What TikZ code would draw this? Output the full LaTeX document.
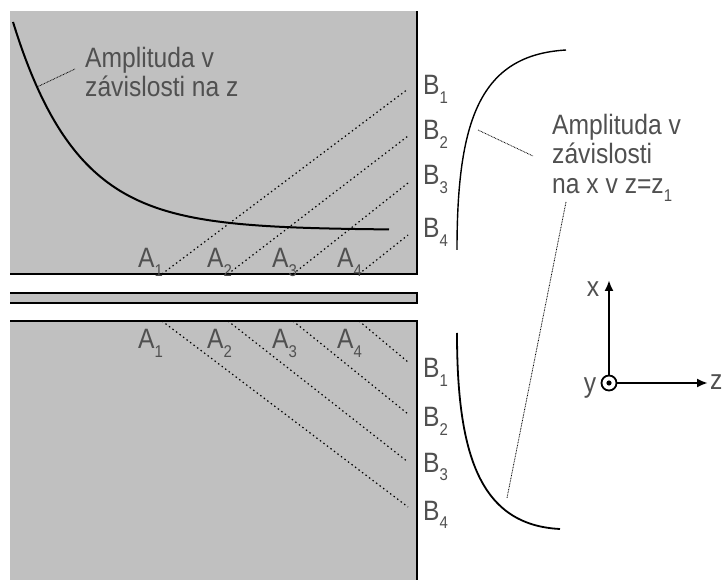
\documentclass[tikz,border=0pt]{standalone}
\usepackage{fontspec}
\usetikzlibrary{arrows.meta}
\newfontfamily\figfont[FakeStretch=0.88]{Liberation Sans}
\definecolor{PanelGray}{HTML}{C0C0C0}
\definecolor{LabelGray}{HTML}{505050}
\newcommand\lowidx[1]{\raisebox{-0.3em}{\fontsize{17}{17}\selectfont#1}}
\tikzset{
  lbl/.style={text=LabelGray,font=\figfont\fontsize{28}{29.5}\selectfont,inner sep=0pt,align=left},
  ray/.style={dash pattern=on 1.4pt off 3pt,line width=1.2pt},
  leader/.style={dash pattern=on 0.8pt off 0.8pt,line width=0.8pt},
  axis/.style={line width=2.6pt,-{Latex[length=11pt,width=9pt]}}
}
\begin{document}
\begin{tikzpicture}[x=1pt,y=-1pt]
  \useasboundingbox (0,0) rectangle (724,580);
  % panels
  \fill[PanelGray] (10,11) rectangle (417,274); \draw[line width=2pt] (10,274) -- (417,274) -- (417,11);
  \fill[PanelGray] (10,293) rectangle (417,303); \draw[line width=1.5pt] (10,293) -- (417,293) (10,303) -- (417,303); \draw[line width=2.5pt] (417,292) -- (417,304);
  \fill[PanelGray] (10,321) rectangle (417,580); \draw[line width=2pt] (10,321) -- (417,321) -- (417,580);
  % amplitude curves
  \draw[line width=2pt] plot[domain=13:389,samples=80,smooth] (\x,{230-208*exp(-0.0156*(\x-13))});
  \draw[line width=1.4pt] (457,250) .. controls (457,120) and (480,55) .. (566,50);
  \draw[line width=1.8pt] (457,333) .. controls (457,455) and (480,525) .. (560,529);
  % rays
  \foreach \xa/\yb [count=\i] in {162/89,228/136,293/183,359/235} {
    \coordinate (ta\i) at (\xa,274); \coordinate (tb\i) at (408,\yb); \draw[ray] (ta\i) -- (tb\i);
  }
  \foreach \xa/\yb [count=\i] in {162/507,228/462,293/414,359/362} {
    \coordinate (ba\i) at (\xa,321); \coordinate (bb\i) at (408,\yb); \draw[ray] (ba\i) -- (bb\i);
  }
  \foreach \xl [count=\i] in {138,207,272,337} {
    \node[lbl,anchor=base west] (tA\i) at (\xl,268) {A\lowidx{\i}};
    \node[lbl,anchor=base west] (bA\i) at (\xl,349) {A\lowidx{\i}};
  }
  \foreach \yt/\yd [count=\i] in {95/378,140/427,185/472,238/520} {
    \node[lbl,anchor=base west] (tB\i) at (423,\yt) {B\lowidx{\i}};
    \node[lbl,anchor=base west] (bB\i) at (423,\yd) {B\lowidx{\i}};
  }
  % labels and leaders
  \node[lbl,anchor=north west] (zlabel) at (85,47) {Amplituda v\\závislosti na z};
  \node[lbl,anchor=north west] (xlabel) at (552,114) {Amplituda v\\závislosti\\na x v z=z\lowidx{1}};
  \coordinate (zcurve) at (37,87); \coordinate (ztext) at (75,69); \draw[leader] (zcurve) -- (ztext);
  \coordinate (xcurve) at (478,130); \coordinate (xtext) at (533,156); \draw[leader] (xcurve) -- (xtext);
  \coordinate (xtext2) at (566,202); \coordinate (xcurve2) at (507,498); \draw[leader] (xtext2) -- (xcurve2);
  % axes
  \node[circle,draw,line width=1.8pt,minimum size=15pt,inner sep=0pt] (ycirc) at (609,383) {}; \fill (ycirc.center) circle (2.6pt);
  \coordinate (xtip) at (609,280); \coordinate (ztip) at (708,383);
  \draw[axis] (ycirc.north) -- (xtip); \draw[axis] (ycirc.east) -- (ztip);
  \node[lbl,anchor=base] (xax) at (593,297) {x};
  \node[lbl,anchor=base west] (zax) at (710,390) {z};
  \node[lbl,anchor=base] (yax) at (590,393) {y};
\end{tikzpicture}
\end{document}
